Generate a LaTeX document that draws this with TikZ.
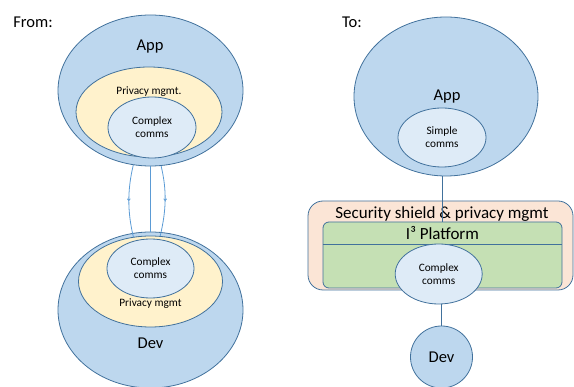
\documentclass[tikz,border=0pt]{standalone}
\usepackage{fontspec}
\setmainfont{Carlito}
\usepackage{tikz}
\usetikzlibrary{shapes.geometric, arrows.meta, decorations.markings}
\usepackage{xcolor}

\definecolor{appblue}{HTML}{BDD7EE}
\definecolor{edgeblue}{HTML}{41719C}
\definecolor{linkblue}{HTML}{5B9BD5}
\definecolor{commsblue}{HTML}{DEEBF7}
\definecolor{privyellow}{HTML}{FFF2CC}
\definecolor{platgreen}{HTML}{C5E0B4}
\definecolor{shieldpeach}{HTML}{FBE5D6}

\newcommand{\bigtxt}{\fontsize{16.5}{18}\selectfont}
\newcommand{\smalltxt}{\fontsize{11.3}{13}\selectfont}

\begin{document}
\begin{tikzpicture}[x=1pt, y=-1pt]
    % Define styles
    \tikzstyle{outer} = [ellipse, inner sep=0pt, draw=edgeblue, line width=0.8pt, fill=appblue]
    \tikzstyle{privacy} = [ellipse, inner sep=0pt, draw=edgeblue, line width=0.8pt, fill=privyellow]
    \tikzstyle{comms} = [ellipse, inner sep=0pt, align=center, draw=edgeblue, line width=0.8pt, fill=commsblue, font=\smalltxt]
    \tikzstyle{box} = [rectangle, inner sep=0pt, draw=edgeblue, line width=0.8pt]
    \tikzstyle{big} = [inner sep=0pt, font=\bigtxt]
    \tikzstyle{small} = [inner sep=0pt, font=\smalltxt]
    \tikzstyle{link} = [draw=linkblue, line width=0.8pt]
    \tikzstyle{midbarb} = [postaction={decorate}, decoration={markings,
        mark=at position 0.5 with {\arrow{Straight Barb[length=1.6pt, width=3pt]}}}]

    \useasboundingbox (0,0) rectangle (574,387);

    % From: app and device each doing their own privacy and comms
    \node (from) [big] at (33,22) {From:};
    \node (appL) [outer, minimum width=185pt, minimum height=151pt] at (150.5,90.5) {};
    \node (appLtxt) [big] at (150,47) {App};
    \node (privL) [privacy, minimum width=146pt, minimum height=90pt] at (149,112) {};
    \node (privLtxt) [small] at (149,92) {Privacy mgmt.};
    \node (commsL) [comms, minimum width=88pt, minimum height=61pt] at (152,127.5) {Complex\\comms};

    \node (devL) [outer, minimum width=185pt, minimum height=156pt] at (150.5,310) {};
    \node (privD) [privacy, minimum width=144pt, minimum height=91pt] at (150.5,281.5) {};
    \node (commsD) [comms, minimum width=87pt, minimum height=59pt] at (150.5,268.5) {Complex\\comms};
    \node (privDtxt) [small] at (150.5,304) {Privacy mgmt};
    \node (devLtxt) [big] at (150.5,343) {Dev};

    % Links between app and device
    \draw [link, midbarb] (appL.257) .. controls +(-6,25) and +(-6,-25) .. (privD.111);
    \draw [link, midbarb] (appL.278) .. controls +(6,25) and +(6,-25) .. (privD.78);
    \draw [link] (appL.south) -- (devL.north);

    % To: a platform in the middle
    \node (to) [big] at (352,22) {To:};
    \node (appR) [outer, minimum width=184pt, minimum height=159pt] at (446,96.5) {};
    \node (appRtxt) [big] at (447,97) {App};
    \node (simpleR) [comms, minimum width=88pt, minimum height=59pt] at (442,137.5) {Simple\\comms};

    \node (shield) [box, fill=shieldpeach, rounded corners=15pt, minimum width=265pt, minimum height=89pt] at (440.5,245.5) {};
    \node (shieldtxt) [big, font=\fontsize{17}{19}\selectfont] at (442,214.5) {Security shield \& privacy mgmt};
    \node (plat) [box, fill=platgreen, rounded corners=6pt, minimum width=239pt, minimum height=66pt] at (442.5,255) {};
    \node (plattxt) [big, font=\fontsize{17}{19}\selectfont] at (442.5,233) {I³ Platform};
    \draw [draw=edgeblue, line width=0.8pt] (plat.west |- 0,244) -- (plat.east |- 0,244);

    \node (commsR) [comms, minimum width=87pt, minimum height=60pt] at (438.7,274) {Complex\\comms};
    \node (devR) [outer, circle, minimum size=62pt] at (441.5,357) {};
    \node (devRtxt) [big] at (441.5,357) {Dev};

    % Arrows
    \draw [draw=edgeblue, line width=0.8pt] (appR.south -| simpleR.south) -- (simpleR.south |- plat.north);
    \draw [draw=edgeblue, line width=0.8pt] (commsR.south -| devR.north) -- (devR.north);
\end{tikzpicture}
\end{document}
